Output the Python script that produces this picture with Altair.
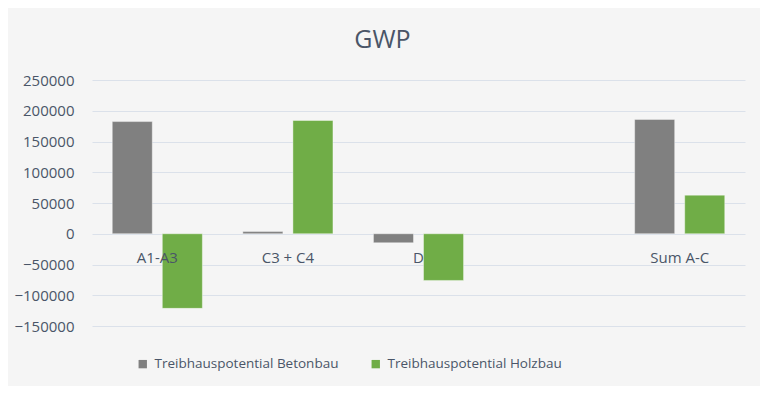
import altair as alt
import pandas as pd

categories = ["A1-A3", "C3 + C4", "D", " ", "Sum A-C"]
bar_categories = ["A1-A3", "C3 + C4", "D", "Sum A-C"]
series = ["Treibhauspotential Betonbau", "Treibhauspotential Holzbau"]
beton = [182400, 3500, -14700, 185900]
holz = [-121300, 184100, -75900, 62800]
y_ticks = [-150000, -100000, -50000, 0, 50000, 100000, 150000, 200000, 250000]

rows = []
for c, b, h in zip(bar_categories, beton, holz):
    rows.append({"cat": c, "series": series[0], "value": b})
    rows.append({"cat": c, "series": series[1], "value": h})
df = pd.DataFrame(rows)
labels_df = pd.DataFrame({"cat": bar_categories, "value": [0] * len(bar_categories)})

FONT = "Open Sans"
TXT = "#4a5568"

x_enc = alt.X("cat:N", scale=alt.Scale(domain=categories, paddingInner=0.31, paddingOuter=0.155), axis=None)
y_enc = alt.Y(
    "value:Q",
    scale=alt.Scale(domain=[-150000, 250000], nice=False, zero=False),
    axis=alt.Axis(values=y_ticks, format="d", title=None, domain=False, ticks=False,
                  labelPadding=18, labelFontSize=15, labelColor=TXT, labelFont=FONT,
                  gridColor="#dbe1ea", gridWidth=1),
)

bars = alt.Chart(df).mark_bar(stroke="#ffffff", strokeWidth=1, strokeOpacity=0.4).encode(
    x=x_enc,
    xOffset=alt.XOffset("series:N", scale=alt.Scale(domain=series, paddingInner=0.2, paddingOuter=0)),
    y=y_enc,
    color=alt.Color(
        "series:N",
        scale=alt.Scale(domain=series, range=["#808080", "#70AD47"]),
        legend=alt.Legend(orient="none", legendX=44, legendY=277, direction="horizontal", title=None,
                          symbolType="square", symbolSize=70, symbolStrokeWidth=0,
                          labelFontSize=13.5, labelFont=FONT, labelColor=TXT, labelLimit=400,
                          columnPadding=30, labelOffset=5, padding=0),
    ),
)

labels = alt.Chart(labels_df).mark_text(dy=24, fontSize=15, font=FONT, color=TXT, baseline="middle").encode(
    x=x_enc,
    y=y_enc,
    text="cat:N",
)

chart = (
    alt.layer(bars, labels)
    .properties(
        width=653,
        height=246,
        autosize=alt.AutoSizeParams(type="none"),
        padding={"left": 84, "top": 72, "right": 15, "bottom": 60},
        background="#f5f5f5",
        title=alt.TitleParams("GWP", fontSize=25, font=FONT, color=TXT, fontWeight="normal",
                              anchor="middle", dx=-36, offset=0, baseline="alphabetic"),
    )
    .configure_view(stroke=None)
)

chart.save("out.html", embed_options={"renderer": "svg", "actions": False})
